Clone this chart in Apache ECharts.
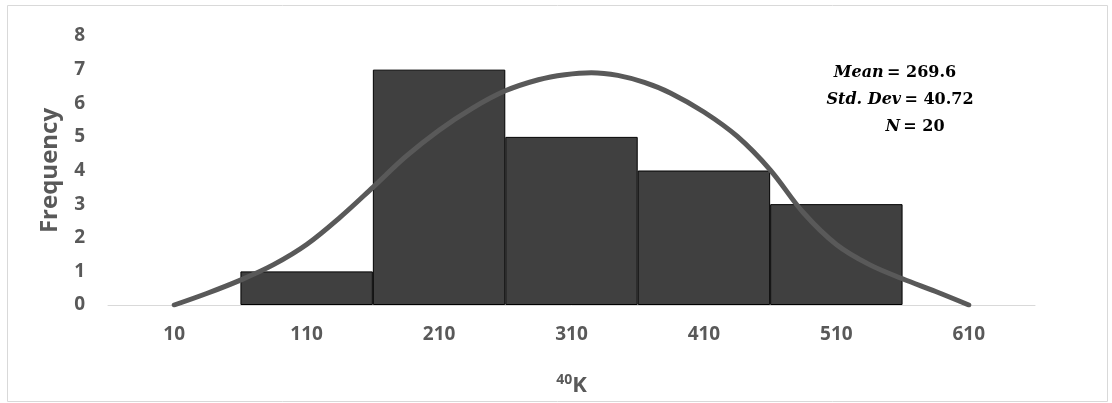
<!DOCTYPE html>
<html><head><meta charset="utf-8">
<script src="https://cdn.jsdelivr.net/npm/echarts@6/dist/echarts.min.js"></script>
<style>html,body{margin:0;padding:0;background:#fff}#c{width:1112px;height:403px}</style>
</head><body><div id="c"></div>
<script>
const categories = ['10','110','210','310','410','510','610'];
const frequencies = [null, 1, 7, 5, 4, 3, null];
const curveX = [10, 35, 60, 85, 110, 135, 160, 185, 210, 235, 260, 285, 305, 325, 345, 365, 385, 410, 435, 460, 485, 510, 535, 560, 585, 610];
const curveY = [0, 0.35, 0.74, 1.2, 1.8, 2.6, 3.5, 4.42, 5.2, 5.85, 6.37, 6.7, 6.85, 6.91, 6.83, 6.62, 6.3, 5.74, 5.02, 4.02, 2.75, 1.8, 1.2, 0.78, 0.4, 0];
const yTicks = [0, 8, 1];
const statLines = [
  {label: 'Mean', value: '= 269.6'},
  {label: 'Std. Dev', value: '= 40.72'},
  {label: 'N', value: '= 20'}
];

const chart = echarts.init(document.getElementById('c'), null, {renderer: 'canvas'});
const labelColor = '#595959';
const font = 'Open Sans';
const statPos = [[895, 73], [900, 100], [915, 127]];
chart.setOption({
  animation: false,
  grid: {left: 108, right: 77, top: 36, bottom: 98, outerBoundsMode: 'none', containLabel: false},
  xAxis: [{
    type: 'category', data: categories,
    axisLine: {lineStyle: {color: '#d9d9d9', width: 1}},
    axisTick: {show: false},
    axisLabel: {color: labelColor, fontFamily: font, fontWeight: 'bold', fontSize: 19, margin: 20},
    name: '{s|40}{k|K}', nameLocation: 'middle', nameGap: 68, nameMoveOverlap: false,
    nameTextStyle: {rich: {
      s: {fontFamily: font, fontWeight: 'bold', fontSize: 14, color: labelColor, verticalAlign: 'top', padding: [0,0,12,0]},
      k: {fontFamily: font, fontWeight: 'bold', fontSize: 22, color: labelColor}
    }}
  }, {
    type: 'value', min: -40, max: 660, show: false
  }],
  yAxis: {
    type: 'value', min: yTicks[0], max: yTicks[1], interval: yTicks[2],
    axisLine: {show: false}, axisTick: {show: false}, splitLine: {show: false},
    axisLabel: {color: labelColor, fontFamily: font, fontWeight: 'bold', fontSize: 19, margin: 23},
    name: 'Frequency', nameLocation: 'middle', nameGap: 46, nameRotate: 90, nameMoveOverlap: false,
    nameTextStyle: {color: labelColor, fontFamily: font, fontWeight: 'bold', fontSize: 24}
  },
  series: [{
    type: 'bar', data: frequencies, barWidth: '100%', barGap: '0%',
    itemStyle: {color: '#404040', borderColor: '#000', borderWidth: 1}
  }, {
    type: 'line', xAxisIndex: 1, smooth: 0.35, showSymbol: false,
    data: curveX.map((x, i) => [x, curveY[i]]),
    lineStyle: {color: '#595959', width: 5, cap: 'round'}, z: 5
  }],
  graphic: [{
    type: 'rect', shape: {x: 7.5, y: 5.5, width: 1100, height: 396},
    style: {fill: 'none', stroke: '#d9d9d9', lineWidth: 1}, silent: true, z: -1
  }].concat(statLines.map((s, i) => ({
    type: 'text', x: statPos[i][0], y: statPos[i][1],
    style: {
      text: '{a|' + s.label + '} {b|' + s.value + '}',
      rich: {
        a: {fontFamily: 'DejaVu Serif', fontStyle: 'italic', fontWeight: 'bold', fontSize: 16, fill: '#000'},
        b: {fontFamily: 'DejaVu Serif', fontWeight: 'bold', fontSize: 16, fill: '#000'}
      },
      align: 'center', verticalAlign: 'middle'
    }
  })))
});
</script></body></html>
